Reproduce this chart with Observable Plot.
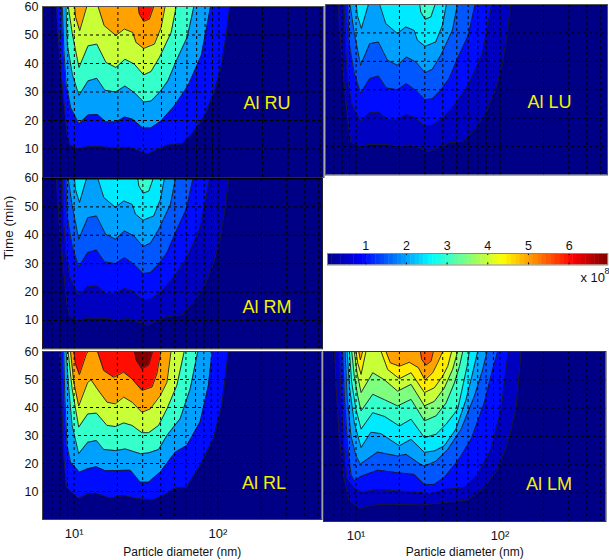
<!DOCTYPE html>
<html><head><meta charset="utf-8">
<script src="https://cdn.jsdelivr.net/npm/d3@7"></script>
<script src="https://cdn.jsdelivr.net/npm/@observablehq/plot@0.6"></script>
<style>
html,body{margin:0;padding:0;background:#fff}
#page{position:relative;width:609px;height:560px;overflow:hidden}
#page>*{position:absolute}
</style></head><body><div id="page"></div>
<script>
// Contour boundaries: [log10(diameter in nm), time in min]
const upperC1=[[.877,60],[.887,51.5],[.905,38.6],[.928,26.8],[.951,15.1],[.970,11.3],[1.032,10],[1.090,10.8],[1.183,10.8],[1.299,10.2],[1.380,10.6],[1.438,9.5],[1.507,8.2],[1.576,9.8],[1.646,11.3],[1.750,11.9],[1.819,15.6],[1.900,21.5],[1.970,30.4],[2.016,39.2],[2.051,50.4],[2.074,60]];
const upperC2=[[.917,60],[.928,44.5],[.944,32.7],[.975,24.5],[1.032,18.8],[1.095,21.9],[1.160,22.1],[1.218,19.5],[1.287,19.5],[1.350,21.2],[1.403,20.4],[1.472,17.4],[1.530,17.4],[1.600,19.8],[1.692,25.1],[1.785,32.1],[1.877,42.7],[1.942,60]];
const upperC3=[[.942,60],[.951,46.8],[.986,36.2],[1.032,28.8],[1.095,33.9],[1.155,34.8],[1.211,30.6],[1.287,30],[1.350,32.1],[1.414,29.8],[1.479,26.5],[1.530,26.8],[1.588,29.8],[1.646,33.9],[1.715,42.1],[1.780,49.2],[1.826,60]];
const upperC4=[[.958,60],[.986,50.4],[1.032,38.6],[1.095,46.2],[1.155,46.8],[1.218,40.4],[1.287,38.6],[1.350,41.5],[1.414,39.8],[1.479,36],[1.530,37.2],[1.588,42.1],[1.669,50.9],[1.704,60]];
const upperC5=[[1.002,60],[1.009,56.2],[1.037,51.5],[1.086,60],[1.125,61.2],[1.164,60],[1.206,53.3],[1.287,49.8],[1.345,52.1],[1.403,50.9],[1.426,47.4],[1.479,45.3],[1.553,46.8],[1.600,52.7],[1.627,60]];
const upperC6=[[1.442,60],[1.449,57.4],[1.479,54.8],[1.519,55.6],[1.549,60]];
const upperCurves=[upperC1,upperC2,upperC3,upperC4,upperC5,upperC6];

const rlC1=[[.900,60],[.910,51.4],[.917,38.3],[.928,22.9],[.947,11.5],[1.032,7.4],[1.095,9.1],[1.148,9.4],[1.252,7.6],[1.345,8.6],[1.438,7.4],[1.553,7.0],[1.646,9.2],[1.704,11.2],[1.785,11.5],[1.877,19.3],[1.970,28.8],[2.028,40.7],[2.074,60]];
const rlC2=[[.928,60],[.935,44.3],[.951,26.4],[.975,20.5],[1.037,16.9],[1.095,18.1],[1.155,18.8],[1.218,17.4],[1.391,17.6],[1.461,13.3],[1.519,13.3],[1.600,16.9],[1.704,24],[1.785,26.4],[1.877,34.8],[1.935,47.9],[1.961,60]];
const rlC3=[[.944,60],[.963,46.7],[.986,33.6],[1.032,23.5],[1.095,27.6],[1.155,28.2],[1.206,25],[1.287,24.6],[1.356,25.2],[1.461,23.5],[1.519,23.8],[1.588,25],[1.646,30],[1.738,36],[1.808,46.7],[1.861,60]];
const rlC4=[[.958,60],[.986,46.7],[1.032,33],[1.095,37.7],[1.155,38],[1.229,33.6],[1.287,33.2],[1.345,34.5],[1.403,33.6],[1.472,31],[1.519,31],[1.588,33.6],[1.646,39.5],[1.715,47.9],[1.766,60]];
const rlC5=[[.975,60],[.998,49],[1.032,40.5],[1.095,49],[1.118,49.9],[1.160,46.7],[1.229,41.9],[1.287,41.3],[1.345,43.7],[1.403,41.9],[1.472,38.3],[1.530,39.5],[1.600,44.3],[1.646,49],[1.674,60]];
const rlC6=[[.998,60],[1.009,55.6],[1.037,51.7],[1.086,59.2],[1.113,61],[1.164,59.8],[1.206,53.2],[1.275,50.8],[1.345,52.6],[1.403,50.2],[1.472,46.1],[1.542,47.3],[1.576,52],[1.604,60]];
const rlC7=[[1.421,60],[1.433,56.8],[1.472,53.8],[1.519,55.2],[1.546,60]];
const rlCurves=[rlC1,rlC2,rlC3,rlC4,rlC5,rlC6,rlC7];

const lmC1=[[.850,60],[.861,47.7],[.884,30.1],[.907,17.2],[.954,7.2],[1.030,4.5],[1.104,5.7],[1.220,6.1],[1.451,5.8],[1.613,6.7],[1.775,7.6],[1.891,11.9],[1.984,18.4],[2.053,27.8],[2.111,39.5],[2.146,60]];
const lmC2=[[.884,60],[.896,44.2],[.914,26.6],[.938,14.9],[1.000,11.1],[1.046,10.4],[1.150,11.3],[1.289,10.8],[1.451,10.2],[1.521,9.6],[1.613,11.3],[1.752,11.9],[1.845,16.6],[1.938,25.4],[2.007,39.5],[2.058,60]];
const lmC3=[[.907,60],[.919,44.2],[.942,26.6],[.965,16.6],[.988,14.3],[1.030,15.8],[1.150,18.1],[1.289,17.2],[1.405,16.6],[1.475,13.1],[1.544,13.1],[1.613,15.5],[1.706,21.3],[1.799,28.9],[1.891,41.8],[1.949,53.6],[1.984,60]];
const lmC4=[[.924,60],[.938,44.2],[.965,30.1],[1.000,23.1],[1.030,20.3],[1.150,24.5],[1.289,23.1],[1.347,23.7],[1.451,20.1],[1.477,19.6],[1.556,21.3],[1.637,25.4],[1.729,32.5],[1.822,44.2],[1.880,53.6],[1.910,60]];
const lmC5=[[.938,60],[.954,47.7],[.988,34.8],[1.035,26.1],[1.104,31.5],[1.174,31],[1.301,26.7],[1.382,29],[1.475,24.4],[1.544,24.9],[1.613,26.7],[1.694,32.6],[1.764,43],[1.810,52.4],[1.845,60]];
const lmC6=[[.954,60],[.970,48.9],[1.000,39.5],[1.035,32.6],[1.116,38.4],[1.197,37.1],[1.301,33.7],[1.382,36.1],[1.475,29.6],[1.556,30.8],[1.625,34.3],[1.706,39.6],[1.741,47.7],[1.771,54.7],[1.787,60]];
const lmC7=[[.970,60],[.988,51.2],[1.012,44.2],[1.035,39],[1.116,44.9],[1.197,43],[1.289,40.8],[1.382,43.1],[1.475,35.5],[1.556,37.3],[1.625,41.8],[1.683,48.9],[1.718,54.7],[1.741,60]];
const lmC8=[[.988,60],[1.007,52.4],[1.035,45.5],[1.116,52.5],[1.197,50],[1.289,46],[1.382,48.4],[1.475,40.8],[1.544,42.4],[1.613,47.1],[1.671,53.7],[1.706,60]];
const lmC9=[[1.000,60],[1.012,55.9],[1.035,51.9],[1.069,60],[1.120,61.2],[1.174,60],[1.220,53.6],[1.301,50.4],[1.382,52.5],[1.475,45.5],[1.544,47.2],[1.602,51.3],[1.637,54.8],[1.664,60]];
const lmC10=[[1.019,60],[1.030,57],[1.046,60],[1.127,61.2],[1.208,60],[1.238,56],[1.301,54.8],[1.370,56.2],[1.433,54.3],[1.479,49.9],[1.532,52.5],[1.567,56],[1.602,60]];
const lmC11=[[1.447,60],[1.456,57.2],[1.486,55.2],[1.521,56.6],[1.537,60]];
const lmCurves=[lmC1,lmC2,lmC3,lmC4,lmC5,lmC6,lmC7,lmC8,lmC9,lmC10,lmC11];

// Contour levels (x 10^8)
const levelsFull=[1,2,3,4,5,6];
const levelsHalf=[.5,1,1.5,2,2.5,3];
const levelsRL=[1,2,3,4,5,6,7];
const levelsLM=[.5,1,1.5,2,2.5,3,3.5,4,4.5,5,5.5];
const baseLevel=.1;

// Colour map
const jetDomain=[.06,.92,2.64,4.37,6.09,6.95];
const jetRange=["#000080","#0000ff","#00ffff","#ffff00","#ff0000","#800000"];
const colorOpts={type:"linear",domain:jetDomain,range:jetRange,clamp:true,interpolate:"rgb"};

const gridX=[7,8,9,10,20,30,40,50,60,70,80,90,100,200,300,400,500];
const gridY=[10,20,30,40,50];
const tickY=[10,20,30,40,50,60];
const tickX=[10,100];
const tickXLabels={10:"10¹",100:"10²"};
const FONT="'Liberation Sans',Arial,sans-serif";
const page=document.getElementById("page");

function panel(o){
  const mL=o.yAxis?42:3, mR=3, mT=8, mB=o.xAxis?41:3;
  const marks=[
    Plot.rect([baseLevel],{x1:()=>10**o.dom[0],x2:()=>10**o.dom[1],y1:()=>0,y2:()=>60,fill:d=>d})
  ];
  o.curves.forEach((c,i)=>{
    const lv=o.levels[i];
    marks.push(Plot.areaY(c,{x:p=>10**p[0],y1:p=>p[1],y2:()=>60,fill:()=>lv,clip:true}));
    marks.push(Plot.line(c,{x:p=>10**p[0],y:p=>p[1],stroke:"#1c1c24",strokeWidth:.9,clip:true}));
  });
  marks.push(Plot.ruleX(gridX,{stroke:"#000",strokeWidth:1,strokeDasharray:"3,3"}));
  marks.push(Plot.ruleY(gridY,{stroke:"#000",strokeWidth:1,strokeDasharray:"3,3"}));
  marks.push(Plot.frame({stroke:o.frame||"#30303a",strokeWidth:1}));
  if(o.topRule) marks.push(Plot.ruleY([60],{stroke:"#000",strokeWidth:2}));
  marks.push(Plot.text([o.label],{x:()=>10**o.lab[0],y:()=>o.lab[1],text:d=>d,textAnchor:"start",fill:"#f4f000",fontSize:18}));
  if(o.yAxis) marks.push(Plot.axisY(tickY,{anchor:"left",tickSize:0,tickPadding:4,label:null}));
  if(o.xAxis){
    marks.push(Plot.axisX(tickX,{anchor:"bottom",tickSize:0,tickPadding:9,label:null,tickFormat:d=>tickXLabels[d],fontSize:13}));
    marks.push(Plot.text(["Particle diameter (nm)"],{frameAnchor:"bottom",dy:o.xLabelDy,fontSize:12}));
  }
  if(o.ylabel) marks.push(Plot.text([o.ylabel],{frameAnchor:"left",rotate:-90,dx:-34,dy:-4,fontSize:13.5}));
  const svg=Plot.plot({
    width:o.w+mL+mR,height:o.h+mT+mB,marginLeft:mL,marginRight:mR,marginTop:mT,marginBottom:mB,
    style:{background:"transparent",overflow:"visible",fontFamily:FONT,fontSize:"12.5px",color:"#111"},
    x:{type:"log",domain:[10**o.dom[0],10**o.dom[1]],axis:null},
    y:{domain:[0,60],axis:null},
    color:colorOpts,
    marks
  });
  svg.style.left=(o.left-mL)+"px";
  svg.style.top=(o.top-mT)+"px";
  page.appendChild(svg);
}

const domL=[.78,2.725], domR=[.774,2.736];
panel({left:41.5,top:6,w:281.5,h:171,dom:domL,curves:upperCurves,levels:levelsFull,label:"Al RU",lab:[2.169,26.1],yAxis:true,frame:"#555"});
panel({left:325,top:4,w:282,h:170.5,dom:[.788,2.745],curves:upperCurves,levels:levelsHalf,label:"Al LU",lab:[2.19,25.5],frame:"#555"});
panel({left:41.5,top:177.5,w:280,h:170.3,dom:domL,curves:upperCurves,levels:levelsHalf,label:"Al RM",lab:[2.169,14.7],yAxis:true,ylabel:"Time (min)",frame:"#222",topRule:true});
panel({left:41.5,top:351,w:279.5,h:168,dom:domL,curves:rlCurves,levels:levelsRL,label:"Al RL",lab:[2.169,12.9],yAxis:true,xAxis:true,frame:"#444",xLabelDy:36});
panel({left:323,top:350.5,w:282.5,h:170,dom:domR,curves:lmCurves,levels:levelsLM,label:"Al LM",lab:[2.18,13.2],xAxis:true,frame:"#333",xLabelDy:34.5});

// Colour bar
const barTicks=[1,2,3,4,5,6];
const barSteps=d3.range(64).map(i=>jetDomain[0]+(i+.5)*(jetDomain[5]-jetDomain[0])/64);
const barStep=(jetDomain[5]-jetDomain[0])/64;
const bar=Plot.plot({
  width:280.3+4+4,height:11.5+20+30,marginLeft:4,marginRight:4,marginTop:20,marginBottom:30,
  style:{background:"transparent",overflow:"visible",fontFamily:FONT,fontSize:"12.5px",color:"#111"},
  x:{domain:[jetDomain[0],jetDomain[5]],axis:null},
  y:{domain:[0,1],axis:null},
  color:colorOpts,
  marks:[
    Plot.rect(barSteps,{x1:d=>d-barStep/2,x2:d=>d+barStep/2+barStep*.1,y1:()=>0,y2:()=>1,fill:d=>d}),
    Plot.ruleX(barTicks,{y1:()=>0,y2:()=>.18,stroke:"#000",strokeWidth:1}),
    Plot.ruleX(barTicks,{y1:()=>.82,y2:()=>1,stroke:"#000",strokeWidth:1}),
    Plot.frame({stroke:"#8a8a70",strokeWidth:1}),
    Plot.axisX(barTicks,{anchor:"top",tickSize:0,tickPadding:3,label:null}),
    Plot.text(["x 10"],{x:()=>6.58,y:()=>0,dy:13,fontSize:13}),
    Plot.text(["8"],{x:()=>6.93,y:()=>0,dy:6,fontSize:9})
  ]
});
bar.style.left=(326.7-4)+"px";
bar.style.top=(252.7-20)+"px";
page.appendChild(bar);
</script></body></html>
